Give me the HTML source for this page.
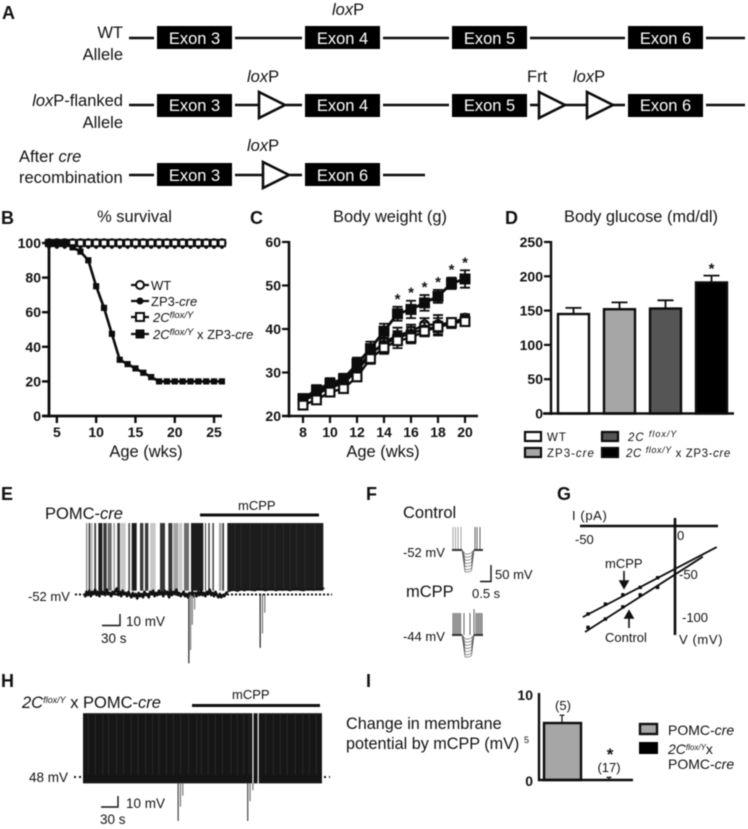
<!DOCTYPE html>
<html lang="en">
<head>
<meta charset="utf-8">
<title>Multi-panel 5-HT2C figure</title>
<style>
html,body{margin:0;padding:0;background:#fff;width:748px;height:829px;overflow:hidden}
svg{display:block;filter:blur(.45px)}
text{font-family:"Liberation Sans",Arial,sans-serif;fill:#111}
.plab{font-size:18px;font-weight:bold}
.t15{font-size:16.5px}
.tick{font-size:14px;font-weight:bold}
.title{font-size:16.4px;text-anchor:middle}
.axt{font-size:16.5px;text-anchor:middle}
.ex{font-size:16.5px;fill:#fff;text-anchor:middle}
.r{text-anchor:end}
.m{text-anchor:middle}
.it{font-style:italic}
</style>
</head>
<body>
<svg id="fig" xmlns="http://www.w3.org/2000/svg" width="748" height="829" viewBox="0 0 748 829">
<rect width="748" height="829" fill="#fff"/>

<g id="panelA">
<text class="plab" x="2" y="19">A</text>
<g id="alleleMarks"></g>
<text class="t15 r" x="123" y="38">WT</text>
<text class="t15 r" x="123" y="60">Allele</text>
<text class="t15" x="332" y="15"><tspan class="it">lox</tspan>P</text>
<text class="t15" x="247" y="82"><tspan class="it">lox</tspan>P</text>
<text class="t15" x="527" y="82">Frt</text>
<text class="t15" x="573" y="82"><tspan class="it">lox</tspan>P</text>
<text class="t15 r" x="123" y="106"><tspan class="it">lox</tspan>P-flanked</text>
<text class="t15 r" x="123" y="128">Allele</text>
<text class="t15" x="247" y="151"><tspan class="it">lox</tspan>P</text>
<text class="t15" x="19" y="162">After <tspan class="it">cre</tspan></text>
<text class="t15" x="19" y="183">recombination</text>
</g>

<g id="panelB">
<text class="plab" x="1" y="224">B</text>
<text class="title" x="134.5" y="222">% survival</text>
<text class="axt" x="146" y="457">Age (wks)</text>
<text x="151" y="290" font-size="13">WT</text>
<text x="151" y="306" font-size="13">ZP3-<tspan class="it">cre</tspan></text>
<text x="153" y="322" font-size="13" class="it">2C<tspan dy="-4" font-size="9.5">flox/Y</tspan></text>
<text x="153" y="339" font-size="13"><tspan class="it">2C</tspan><tspan class="it" dy="-4" font-size="9.5">flox/Y</tspan><tspan dy="4"> x ZP3-</tspan><tspan class="it">cre</tspan></text>
<g id="chartB"></g>
</g>

<g id="panelC">
<text class="plab" x="250" y="224">C</text>
<text class="title" x="390" y="222">Body weight (g)</text>
<text class="axt" x="383" y="457">Age (wks)</text>
<g id="chartC"></g>
</g>

<g id="panelD">
<text class="plab" x="505" y="224">D</text>
<text class="title" x="641" y="222">Body glucose (md/dl)</text>
<g id="chartD"></g>
<text x="547" y="441" font-size="11.5" letter-spacing="1">WT</text>
<text x="547" y="457" font-size="11.5" letter-spacing="1">ZP3-<tspan class="it">cre</tspan></text>
<text x="628" y="441" font-size="11.5" letter-spacing="1" class="it">2C <tspan dy="-4" font-size="9">flox/Y</tspan></text>
<text x="626" y="457" font-size="11.5" letter-spacing=".6"><tspan class="it">2C </tspan><tspan class="it" dy="-4" font-size="9">flox/Y</tspan><tspan dy="4"> x ZP3-</tspan><tspan class="it">cre</tspan></text>
</g>

<g id="panelE">
<text class="plab" x="1" y="500">E</text>
<text x="45" y="519" font-size="16.5">POMC-<tspan class="it">cre</tspan></text>
<text x="238" y="510" font-size="13">mCPP</text>
<text x="28" y="601" font-size="13">-52 mV</text>
<text x="126" y="626" font-size="13.5">10 mV</text>
<text x="101" y="643" font-size="13.5">30 s</text>
<path d="M102 625.5H120V614" fill="none" stroke="#111" stroke-width="1.4"/>
<rect x="200" y="513.5" width="119" height="3" fill="#111"/>
<g id="traceE"></g>
<line x1="75" y1="594.5" x2="332" y2="594.5" stroke="#111" stroke-width="2" stroke-dasharray="2 2"/>
</g>

<g id="panelF">
<text class="plab" x="366" y="500">F</text>
<text class="t15" x="403" y="518">Control</text>
<text x="403" y="557" font-size="13">-52 mV</text>
<text x="495" y="579" font-size="13">50 mV</text>
<text class="t15" x="406" y="597">mCPP</text>
<text x="472" y="598" font-size="13">0.5 s</text>
<text x="403" y="641" font-size="13">-44 mV</text>
<path d="M480 581.5H491V565" fill="none" stroke="#111" stroke-width="1.4"/>
<g id="traceF"></g>
</g>

<g id="panelG">
<text class="plab" x="557" y="500">G</text>
<text x="572" y="520" font-size="13" letter-spacing=".6">I (pA)</text>
<text x="575" y="544" font-size="13">-50</text>
<text x="677" y="540" font-size="13">0</text>
<text x="679" y="579" font-size="13">-50</text>
<text x="682" y="622" font-size="13">-100</text>
<text x="679" y="644" font-size="13" letter-spacing=".6">V (mV)</text>
<text x="605" y="568" font-size="13">mCPP</text>
<text x="605" y="642" font-size="13">Control</text>
<g id="chartG"></g>
<path d="M624 571V583M620 581L624 588L628 581Z" fill="#111" stroke="#111" stroke-width="1.6"/>
<path d="M629 628V616M625 618L629 611L633 618Z" fill="#111" stroke="#111" stroke-width="1.6"/>
</g>

<g id="panelH">
<text class="plab" x="1" y="687">H</text>
<text x="22" y="708" font-size="16.5"><tspan class="it">2C</tspan><tspan class="it" dy="-5" font-size="9">flox/Y</tspan><tspan dy="5"> x POMC-</tspan><tspan class="it">cre</tspan></text>
<text x="232" y="699" font-size="13">mCPP</text>
<text x="29" y="782" font-size="13.5">48 mV</text>
<text x="126" y="808" font-size="13.5">10 mV</text>
<text x="100" y="824" font-size="13.5">30 s</text>
<path d="M101 807H118V796" fill="none" stroke="#111" stroke-width="1.4"/>
<rect x="192" y="704" width="128" height="3" fill="#111"/>
<g id="traceH"></g>
<line x1="74" y1="777" x2="330" y2="777" stroke="#111" stroke-width="2" stroke-dasharray="2 3"/>
</g>

<g id="panelI">
<text class="plab" x="366" y="687">I</text>
<text x="346" y="729" font-size="16.2">Change in membrane</text>
<text x="346" y="749" font-size="16.2">potential by mCPP (mV)</text>
<text x="524" y="743" font-size="9">5</text>
<g id="chartI"></g>
<text x="563" y="710" font-size="13" class="m">(5)</text>
<text x="609" y="772" font-size="13" class="m">(17)</text>
<text x="610" y="760" font-size="17" font-weight="bold" class="m">*</text>
<rect x="640" y="724" width="17" height="10" fill="#a6a6a6" stroke="#111" stroke-width="2.4"/>
<rect x="639" y="742" width="19" height="12" fill="#000"/>
<text x="668" y="735" font-size="14">POMC-<tspan class="it">cre</tspan></text>
<text x="668" y="754" font-size="14"><tspan class="it">2C</tspan><tspan class="it" dy="-4" font-size="8">flox/Y</tspan><tspan dy="4">x</tspan></text>
<text x="668" y="769" font-size="14">POMC-<tspan class="it">cre</tspan></text>
</g>
</svg>

<script>
/* ---------- panel B data ---------- */
const survWeeks = [4,5,6,7,8,9,10,11,12,13,14,15,16,17,18,19,20,21,22,23,24,25,26];
const survWT    = [100,100,100,100,100,100,100,100,100,100,100,100,100,100,100,100,100,100,100,100,100,100,100];
const survZP3   = [100,100,100,100,100,100,100,100,100,100,100,100,100,100,100,100,100,100,100,100,100,100,100];
const survFlox  = [100,100,100,100,100,100,100,100,100,100,100,100,100,100,100,100,100,100,100,100,100,100,100];
const survKO    = [100,100,100,97.5,95,90,75,62.5,47.5,32.5,30,27.5,25,22.5,20,20,20,20,20,20,20,20,20];
const survYTicks = [0,20,40,60,80,100];
const survXTicks = [5,10,15,20,25];

/* ---------- panel C data ---------- */
const bwWeeks = [8,9,10,11,12,13,14,15,16,17,18,19,20];
const bwWT    = [23.5,25,26.5,27.5,30.5,34,37,38.5,39.5,41,41,41.5,42.5];
const bwWTErr = [.8,.9,1,1,1.2,1.3,1.5,1.8,1.5,1.5,2.2,1,.9];
const bwZP3   = [24,25.5,27,28,31,34.5,36.5,38,39,40,40.5,41.2,42];
const bwZP3Err= [.8,.9,1,1,1.2,1.3,1.5,1.5,1.5,1.5,2,1,1];
const bwKO    = [24,26,27.5,28.5,32,35.5,39.5,43.5,44.5,46,47.5,50.5,51.5];
const bwKOErr = [1,1.1,1.2,1.2,1.4,1.6,1.7,1.6,2,1.8,1.5,1.3,2];
const bwFlox  = [22.5,23.7,25.5,26.3,29,33.2,35.7,37.3,38,39.5,40.5,41.5,41.7];
const bwFloxErr=[.7,.8,.9,.9,1,1.2,1.4,1.7,1.3,1.2,1.2,.8,1];
const bwStars = [15,16,17,18,19,20];
const bwYTicks = [20,30,40,50,60];
const bwXTicks = [8,10,12,14,16,18,20];

/* ---------- panel D data ---------- */
const gluGroups = ['WT','ZP3-cre','2C flox/Y','2C flox/Y x ZP3-cre'];
const gluValues = [145,152,153,191];
const gluErrors = [9,10,12,10];
const gluYTicks = [0,50,100,150,200,250];

/* ---------- panel E data (seconds, mV, firing density 0-1) ---------- */
const eBurstStart = [1.7,6.3,10.9,16.1,23,31.6,39.1,48.9,55.7,61.5,74.7,80.5,94.8,103.4,112.1,129.3,143.7,152.3,162,170.7,182.8,206.9,212.6,219.5,231,236.8,245.4];
const eBurstEnd   = [4,9.2,12.6,19,29.9,37.4,46,51.7,60.3,70.1,77.6,89.1,100.6,109.2,121.8,137.9,150.6,160.9,167.8,179.3,204,208.6,215,222.4,235.6,239.7,410.9];
const eBurstDensity = [.6,.9,.6,.9,1,.9,.7,.5,.9,.35,.8,1,.9,.9,.35,.9,.9,.5,.35,.7,1,.9,.9,.8,.5,.9,1];
const eSparseTimes = [258.6,269,284.5,304.6,316,327.6,342,353.4,365,379,396.5];
/* early baseline, one reading every 2.5 s */
const eBaseEarly = [-55,-50,-53,-49,-54,-50,-52,-48,-53,-50,-54,-49,-52,-50,-53,-48,-52,-51,-54,-50,-52,-49,-47,-53,-50,-54,-49,-52,-51,-54,-50,-53,-55,-51,-54,-52,-56,-51,-54,-52,-55,-50,-53,-52,-55,-50,-52,-49,-54,-51,-53,-49,-52,-50,-54,-49,-52,-50,-55,-49,-53,-50,-52,-48,-53,-51,-54,-52,-50,-54,-52,-55,-51,-53,-50,-54,-51,-54,-50,-53,-49,-53,-51,-54,-50,-52,-48,-53,-51,-54,-50,-53,-55,-52,-55,-53,-54,-52,-50];
/* late baseline, one reading every 6 s from t = 245 s */
const eBaseLate = [-50,-49,-48.5,-49.5,-48,-49,-47.5,-48.5,-49,-47.5,-48,-49,-48,-47.5,-49,-48,-48.5,-47.5,-49,-48,-47,-48.5,-49,-47.5,-48,-48.5,-47,-48,-46.5];
const eDeflectTimes = [179,182,185,189,302,306,310];
const eDeflectMV    = [-115,-103,-80,-66,-101,-88,-69];
const eSpikePeak = 12.5;

/* ---------- panel F data ---------- */
const fStepsMV = [-6,-11,-16,-21,-26,-31,-35];
const fControlSpikes = [0,2.5,5,8,22,24,27];
const fMcppSpikes = [0,1.5,3,4.5,6,7.5,11,17,21,23,24.5,26,27.5,29];

/* ---------- panel G data ---------- */
const ivVoltages = [-50,-40,-30,-20,-10];
const ivMcpp     = [-94.6,-84,-74,-66,-55.6];
const ivControl  = [-109,-100,-87,-74,-66];
const ivMcppFitV = [-53,24];
const ivMcppFitI = [-98,-22.6];
const ivCtrlFitV = [-51.7,16];
const ivCtrlFitI = [-114,-33];

/* ---------- panel H data ---------- */
const hBurstStart = [0,294,303];
const hBurstEnd   = [292,301,412];
const hSparseTimes = [9,21,34,44,58,70,83,95,108,120,131,144,156,168,182,196,204,216,228,240,255,266,277,287,315,328,340,352,366,379,390,402];
const hDeflectTimes = [164,168,172,284,288,293];
const hDeflectMV    = [-88,-75,-65,-88,-70,-60];
const hSpikePeak = 10;
const hFloor = -53.8;

/* ---------- panel I data ---------- */
const chGroups = ['POMC-cre','2C flox/Y x POMC-cre'];
const chValues = [6.55,0.05];
const chErrors = [0.9,0.25];

const NS='http://www.w3.org/2000/svg';
const INK='#0c0c0c';
function mk(parent,tag,name,attrs,txt){
  const el=document.createElementNS(NS,tag);
  
  
  for(const k in attrs)el.setAttribute(k,attrs[k]);
  if(txt!==undefined)el.textContent=txt;
  parent.appendChild(el);
  return el;
}
const G=id=>document.getElementById(id);

/* ---------- panel A ---------- */
(function(){
  const g=G('alleleMarks');
  const rows=[
    {y:38,h:[26,49],seg:[[129,154],[235,302],[383,449],[530,625],[706,745]],ex:[[157,'Exon 3'],[305,'Exon 4'],[452,'Exon 5'],[628,'Exon 6']],tri:[]},
    {y:105,h:[94,117],seg:[[129,154],[235,258],[286,302],[383,449],[530,538],[564,586],[612,625],[706,745]],ex:[[157,'Exon 3'],[305,'Exon 4'],[452,'Exon 5'],[628,'Exon 6']],tri:[259,539,587]},
    {y:175,h:[163,186],seg:[[129,154],[235,263],[290,302],[383,425]],ex:[[157,'Exon 3'],[305,'Exon 6']],tri:[263]}
  ];
  rows.forEach((r,ri)=>{
    r.seg.forEach(s=>mk(g,'line','allele-line',{x1:s[0],x2:s[1],y1:r.y,y2:r.y,stroke:INK,'stroke-width':2.6}));
    r.ex.forEach(e=>{
      mk(g,'rect','exon-box',{x:e[0],y:r.h[0],width:75,height:r.h[1]-r.h[0],fill:'#000'});
      mk(g,'text','exon-label',{x:e[0]+37.5,y:r.y+6,class:'ex'},e[1]);
    });
    r.tri.forEach(x=>mk(g,'polygon','site-triangle',{points:`${x},${r.y-13} ${x+26},${r.y} ${x},${r.y+13}`,fill:'#fff',stroke:INK,'stroke-width':2.6}));
  });
})();

function polyline(g,name,xs,ys,sx,sy,w){
  return mk(g,'polyline',name,{points:xs.map((x,i)=>sx(x)+','+sy(ys[i])).join(' '),fill:'none',stroke:INK,'stroke-width':w,'stroke-linejoin':'round'});
}
function marker(g,name,kind,x,y,s,fill,sw){
  if(kind==='c')return mk(g,'circle',name,{cx:x,cy:y,r:s,fill:fill,stroke:INK,'stroke-width':sw});
  return mk(g,'rect',name,{x:x-s,y:y-s,width:2*s,height:2*s,fill:fill,stroke:INK,'stroke-width':sw});
}

/* ---------- panel B ---------- */
(function(){
  const g=G('chartB');
  const x=v=>49+(v-4)*7.86, y=v=>416-v*1.73;
  polyline(g,'wt-line',survWeeks,survWT,x,y,2.4);
  survWeeks.forEach((w,i)=>marker(g,'wt-point','c',x(w),y(survWT[i]),3.8,'#fff',1.8));
  survWeeks.forEach((w,i)=>marker(g,'zp3-point','c',x(w),y(survZP3[i])+4,1.4,INK,1));
  survWeeks.forEach((w,i)=>marker(g,'flox-point','s',x(w),y(survFlox[i]),3.2,'#fff',1.8));
  polyline(g,'knockout-line',survWeeks,survKO,x,y,2.6);
  survWeeks.forEach((w,i)=>marker(g,'knockout-point','s',x(w),y(survKO[i]),3.1,INK,0));
  mk(g,'line','survival-y-axis',{x1:49,x2:49,y1:242,y2:417.5,stroke:INK,'stroke-width':2.8});
  mk(g,'line','survival-x-axis',{x1:42,x2:222,y1:416,y2:416,stroke:INK,'stroke-width':2.8});
  survYTicks.forEach(v=>{
    mk(g,'line','survival-y-tick',{x1:42,x2:49,y1:y(v),y2:y(v),stroke:INK,'stroke-width':2.4});
    mk(g,'text','survival-y-tick-label',{x:41,y:y(v)+5,class:'tick r'},v);
  });
  survXTicks.forEach(v=>{
    mk(g,'line','survival-x-tick',{x1:x(v),x2:x(v),y1:416,y2:423,stroke:INK,'stroke-width':2.4});
    mk(g,'text','survival-x-tick-label',{x:x(v),y:437,class:'tick m'},v);
  });
  [285,301,317,334].forEach((ly,i)=>{
    mk(g,'line','legend-line',{x1:131,x2:149,y1:ly,y2:ly,stroke:INK,'stroke-width':2.2});
    const kinds=[['c',4,'#fff',2],['c',3,INK,1],['s',4,'#fff',2],['s',4.5,INK,0]][i];
    marker(g,'legend-marker',kinds[0],140,ly,kinds[1],kinds[2],kinds[3]);
  });
})();

/* ---------- panel C ---------- */
(function(){
  const g=G('chartC');
  const x=v=>303+(v-8)*13.5, y=v=>416-(v-20)*4.35;
  function errs(name,vals,err){
    bwWeeks.forEach((w,i)=>{
      const X=x(w);
      mk(g,'path',name,{d:`M${X-5} ${y(vals[i]+err[i])}H${X+5}M${X} ${y(vals[i]+err[i])}V${y(vals[i]-err[i])}M${X-5} ${y(vals[i]-err[i])}H${X+5}`,fill:'none',stroke:INK,'stroke-width':1.8});
    });
  }
  errs('wt-error',bwWT,bwWTErr);
  polyline(g,'wt-line',bwWeeks,bwWT,x,y,2.4);
  bwWeeks.forEach((w,i)=>marker(g,'wt-point','c',x(w),y(bwWT[i]),4.4,'#fff',2));
  errs('zp3-error',bwZP3,bwZP3Err);
  polyline(g,'zp3-line',bwWeeks,bwZP3,x,y,2.4);
  bwWeeks.forEach((w,i)=>marker(g,'zp3-point','c',x(w),y(bwZP3[i]),4.2,INK,1));
  errs('knockout-error',bwKO,bwKOErr);
  polyline(g,'knockout-line',bwWeeks,bwKO,x,y,2.8);
  bwWeeks.forEach((w,i)=>marker(g,'knockout-point','s',x(w),y(bwKO[i]),5.5,INK,0));
  errs('flox-error',bwFlox,bwFloxErr);
  polyline(g,'flox-line',bwWeeks,bwFlox,x,y,2.4);
  bwWeeks.forEach((w,i)=>marker(g,'flox-point','s',x(w),y(bwFlox[i]),4.4,'#fff',2.1));
  bwStars.forEach(w=>{
    const i=bwWeeks.indexOf(w);
    mk(g,'text','significance-star',{x:x(w),y:y(bwKO[i]+bwKOErr[i])-3,class:'m','font-size':15,'font-weight':'bold'},'*');
  });
  mk(g,'line','weight-y-axis',{x1:289,x2:289,y1:241,y2:417.5,stroke:INK,'stroke-width':2.6});
  mk(g,'line','weight-x-axis',{x1:282,x2:478,y1:416,y2:416,stroke:INK,'stroke-width':2.6});
  bwYTicks.forEach(v=>{
    mk(g,'line','weight-y-tick',{x1:282,x2:289,y1:y(v),y2:y(v),stroke:INK,'stroke-width':2.2});
    mk(g,'text','weight-y-tick-label',{x:281,y:y(v)+5,class:'tick r'},v);
  });
  bwXTicks.forEach(v=>{
    mk(g,'line','weight-x-tick',{x1:x(v),x2:x(v),y1:416,y2:423,stroke:INK,'stroke-width':2.2});
    mk(g,'text','weight-x-tick-label',{x:x(v),y:437,class:'tick m'},v);
  });
})();

/* ---------- panel D ---------- */
(function(){
  const g=G('chartD');
  const y=v=>413.5-v*0.686;
  const x=i=>558+i*46;
  const fills=['#fff','#a6a6a6','#555','#000'];
  gluValues.forEach((v,i)=>{
    const cx=x(i)+15.5, ty=y(v+gluErrors[i]);
    mk(g,'path','glucose-error',{d:`M${cx} ${y(v)}V${ty}M${cx-8} ${ty}H${cx+8}`,fill:'none',stroke:INK,'stroke-width':1.8});
    mk(g,'rect','glucose-bar',{x:x(i),y:y(v),width:31,height:413.5-y(v),fill:fills[i],stroke:INK,'stroke-width':2.4});
  });
  mk(g,'text','significance-star-d',{x:x(3)+15.5,y:y(gluValues[3]+gluErrors[3])-2,class:'m','font-size':15,'font-weight':'bold'},'*');
  mk(g,'line','glucose-y-axis',{x1:551,x2:551,y1:241,y2:415,stroke:INK,'stroke-width':2.4});
  mk(g,'line','glucose-x-axis',{x1:543,x2:734,y1:413.5,y2:413.5,stroke:INK,'stroke-width':2.4});
  gluYTicks.forEach(v=>{
    mk(g,'line','glucose-y-tick',{x1:544,x2:551,y1:y(v),y2:y(v),stroke:INK,'stroke-width':2.2});
    mk(g,'text','glucose-y-tick-label',{x:543,y:y(v)+5,class:'tick r'},v);
  });
  [[524,431,'#fff'],[524,447,'#a6a6a6'],[601,431,'#555'],[601,447,'#000']].forEach(s=>{
    mk(g,'rect','glucose-legend-swatch',{x:s[0]+1,y:s[1]+1,width:16,height:9,fill:s[2],stroke:INK,'stroke-width':2.2});
  });
})();

/* ---------- panel E ---------- */
(function(){
  const g=G('traceE');
  const x=t=>85+t*0.58, y=v=>594-(v+52)*1.1;
  eBurstStart.forEach((s,i)=>{
    const shade=Math.min(200,Math.round(28+(1-eBurstDensity[i])*270));
    mk(g,'rect','spike-burst',{x:x(s),y:y(eSpikePeak),width:x(eBurstEnd[i])-x(s),height:y(-49)-y(eSpikePeak),fill:`rgb(${shade},${shade},${shade})`});
  });
  eSparseTimes.forEach(t=>{
    mk(g,'line','sparse-firing-stripe',{x1:x(t),x2:x(t),y1:y(eSpikePeak),y2:y(-48),stroke:'#2b2b2b','stroke-width':1});
  });
  mk(g,'polyline','membrane-baseline-early',{points:eBaseEarly.map((v,i)=>x(i*2.5)+','+y(v)).join(' '),fill:'none',stroke:'#111','stroke-width':2.6,'stroke-linejoin':'round'});
  mk(g,'polyline','membrane-baseline-late',{points:eBaseLate.map((v,i)=>x(245+i*6)+','+y(v)).join(' '),fill:'none',stroke:'#111','stroke-width':1.4,'stroke-linejoin':'round'});
  eDeflectTimes.forEach((t,i)=>{
    mk(g,'line','downward-deflection',{x1:x(t),x2:x(t),y1:y(-52),y2:y(eDeflectMV[i]),stroke:i%4===0?'#222':'#777','stroke-width':1.2});
  });
})();

/* ---------- panel F ---------- */
(function(){
  const g=G('traceF');
  function block(ox,base,top,spikes,name){
    spikes.forEach((s,i)=>mk(g,'line',name+'-spike',{x1:ox+s,x2:ox+s,y1:base,y2:(name==='mcpp'&&s===21)?top-4:top,stroke:(name==='control'&&i<4)?'#8a8a8a':'#3a3a3a','stroke-width':.8}));
    mk(g,'line',name+'-baseline',{x1:ox-1,x2:ox+9,y1:base,y2:base,stroke:'#333','stroke-width':2});
    mk(g,'line',name+'-baseline-after',{x1:ox+21,x2:ox+30,y1:base,y2:base,stroke:'#333','stroke-width':2});
    fStepsMV.forEach(v=>{
      const d=-v*0.62;
      mk(g,'path',name+'-step',{d:`M${ox+9} ${base}L${ox+12} ${base+d}C${ox+14} ${base+d+1} ${ox+17} ${base+d} ${ox+18.5} ${base+d-1}L${ox+21} ${base}`,fill:'none',stroke:'#555','stroke-width':.6});
    });
  }
  block(453,550,527,fControlSpikes,'control');
  block(453,635,613,fMcppSpikes,'mcpp');
})();

/* ---------- panel G ---------- */
(function(){
  const g=G('chartG');
  const x=v=>675+v*1.74, y=v=>526-v*0.93;
  mk(g,'line','current-axis',{x1:580,x2:718,y1:526,y2:526,stroke:INK,'stroke-width':2.6});
  mk(g,'line','voltage-axis',{x1:675,x2:675,y1:518,y2:635,stroke:INK,'stroke-width':2.6});
  polyline(g,'mcpp-fit-line',ivMcppFitV,ivMcppFitI,x,y,1.8);
  polyline(g,'control-fit-line',ivCtrlFitV,ivCtrlFitI,x,y,1.8);
  ivVoltages.forEach((v,i)=>{
    marker(g,'mcpp-point','s',x(v),y(ivMcpp[i]),1.7,INK,0);
    marker(g,'control-point','s',x(v),y(ivControl[i]),1.7,INK,0);
  });
})();

/* ---------- panel H ---------- */
(function(){
  const g=G('traceH');
  const x=t=>83+t*0.58, y=v=>777-(v+48)*1.1;
  hBurstStart.forEach((s,i)=>{
    mk(g,'rect','spike-burst',{x:x(s),y:y(hSpikePeak),width:x(hBurstEnd[i])-x(s),height:y(hFloor)-y(hSpikePeak),fill:'#161616'});
  });
  hSparseTimes.forEach(t=>{
    mk(g,'line','sparse-firing-stripe',{x1:x(t),x2:x(t),y1:y(hSpikePeak),y2:y(-46),stroke:'#2a2a2a','stroke-width':1});
  });
  hDeflectTimes.forEach((t,i)=>{
    mk(g,'line','downward-deflection',{x1:x(t),x2:x(t),y1:y(hFloor),y2:y(hDeflectMV[i]),stroke:i%3===0?'#444':'#777','stroke-width':1.2});
  });
})();

/* ---------- panel I ---------- */
(function(){
  const g=G('chartI');
  const y=v=>780-v*8.7;
  const x=i=>543+i*47;
  chValues.forEach((v,i)=>{
    const cx=x(i)+19;
    mk(g,'path','change-error',{d:`M${cx} ${y(v)}V${y(v+chErrors[i])}M${cx-2.5} ${y(v+chErrors[i])}H${cx+2.5}`,fill:'none',stroke:INK,'stroke-width':1.2});
    if(i===0)mk(g,'rect','change-bar',{x:x(i)+1,y:y(v),width:37,height:780-y(v),fill:'#a6a6a6',stroke:INK,'stroke-width':2.4});
  });
  mk(g,'line','change-y-axis',{x1:539,x2:539,y1:693,y2:781,stroke:INK,'stroke-width':2.4});
  mk(g,'line','change-x-axis',{x1:538,x2:633,y1:780,y2:780,stroke:INK,'stroke-width':2.4});
  mk(g,'text','change-tick-10',{x:533,y:700,class:'tick r','font-size':14},'10');
  mk(g,'text','change-tick-0',{x:533,y:786,class:'tick r'},'0');
})();
</script>
</body>
</html>
